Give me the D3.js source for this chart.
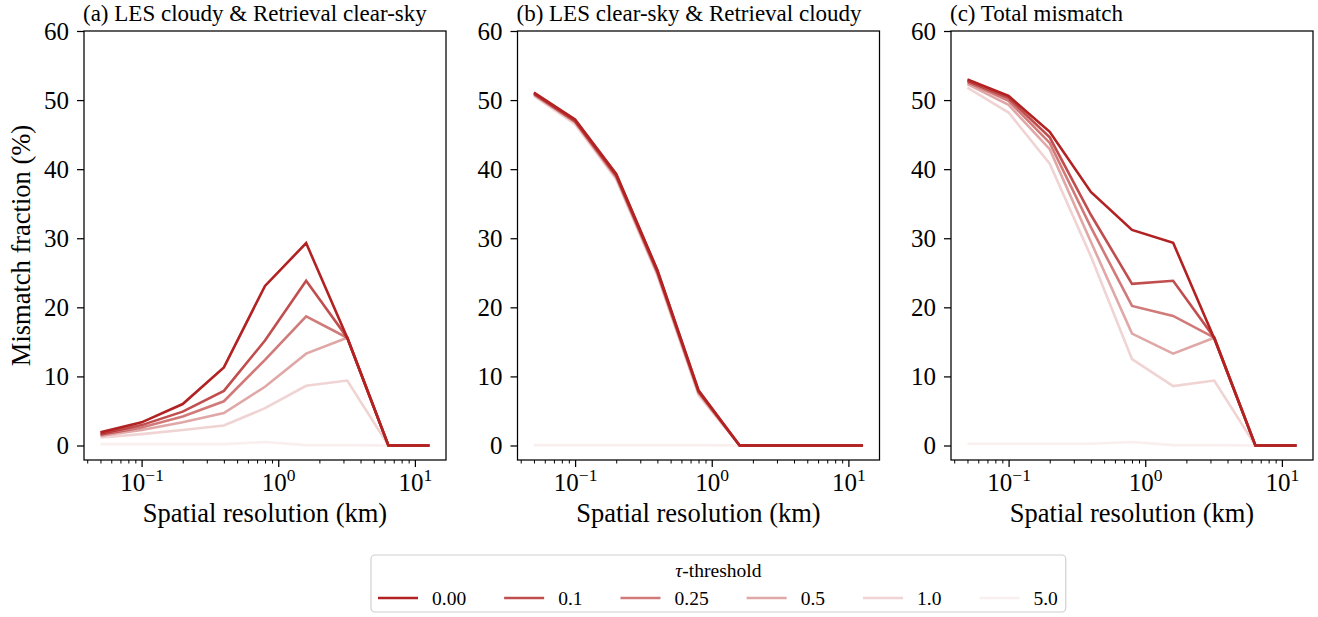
<!DOCTYPE html>
<html>
<head>
<meta charset="utf-8">
<script src="https://cdn.jsdelivr.net/npm/d3@7"></script>
<style>
  body { margin: 0; background: #fff; }
  svg text { font-family: "Liberation Serif", "DejaVu Serif", serif; }
</style>
</head>
<body>
<div id="chart"></div>
<script>
const resolution = [0.05, 0.1, 0.2, 0.4, 0.8, 1.6, 3.2, 6.4, 12.8];
const thresholds = ["0.00", "0.1", "0.25", "0.5", "1.0", "5.0"];
const alphas = [1, 0.8, 0.6, 0.4, 0.2, 0.07];
const yTicks = [0, 10, 20, 30, 40, 50, 60];
const xTicks = [0.1, 1, 10];
const titles = ["(a) LES cloudy & Retrieval clear-sky", "(b) LES clear-sky & Retrieval cloudy", "(c) Total mismatch"];

// (a) LES cloudy & retrieval clear-sky, one row per threshold
const cloudyClear = [
  [1.9, 3.35, 6.0, 11.3, 23.1, 29.3, 15.6, 0, 0],
  [1.7, 2.95, 4.9, 7.9, 15.2, 23.85, 15.6, 0, 0],
  [1.55, 2.6, 4.2, 6.4, 12.4, 18.7, 15.6, 0, 0],
  [1.4, 2.25, 3.35, 4.7, 8.5, 13.3, 15.6, 0, 0],
  [1.15, 1.65, 2.25, 2.9, 5.4, 8.65, 9.4, 0, 0],
  [0.2, 0.2, 0.2, 0.2, 0.5, 0.05, 0.05, 0, 0]
];
// (b) LES clear-sky & retrieval cloudy
const clearCloudy = [
  [51.1, 47.2, 39.3, 25.4, 8.0, 0, 0, 0, 0],
  [51.0, 47.1, 39.2, 25.3, 7.9, 0, 0, 0, 0],
  [50.9, 46.9, 39.0, 25.1, 7.8, 0, 0, 0, 0],
  [50.8, 46.8, 38.8, 24.9, 7.6, 0, 0, 0, 0],
  [50.6, 46.5, 38.5, 24.6, 7.3, 0, 0, 0, 0],
  [0.05, 0.05, 0.05, 0.05, 0.05, 0, 0, 0, 0]
];
// (c) total mismatch
const totalMismatch = [
  [53.0, 50.6, 45.4, 36.7, 31.2, 29.35, 15.5, 0, 0],
  [52.8, 50.3, 44.6, 33.4, 23.4, 23.85, 15.6, 0, 0],
  [52.6, 49.9, 43.8, 31.6, 20.2, 18.75, 15.6, 0, 0],
  [52.3, 49.3, 42.9, 29.5, 16.2, 13.3, 15.6, 0, 0],
  [51.8, 48.2, 40.8, 27.4, 12.5, 8.6, 9.4, 0, 0],
  [0.25, 0.25, 0.25, 0.25, 0.5, 0.05, 0.05, 0, 0]
];
const panels = [cloudyClear, clearCloudy, totalMismatch];

const width = 1318, height = 617;
const base = "#b22222";
const serif = "Liberation Serif";
const axW = 362, axTop = 31, axBottom = 460, firstLeft = 84, step = 433.5;

const svg = d3.select("#chart").append("svg").attr("width", width).attr("height", height)
  .attr("font-family", serif);

const y = d3.scaleLinear().domain([-2.1, 60]).range([axBottom, axTop]);
const pad = Math.pow(10, 0.05 * Math.log10(12.8 / 0.05));
const minor = [];
[0.01, 0.1, 1, 10].forEach(d => { for (let k = 2; k <= 9; k++) minor.push(d * k); });

panels.forEach((series, p) => {
  const left = firstLeft + p * step;
  const x = d3.scaleLog().domain([0.05 / pad, 12.8 * pad]).range([left, left + axW]);
  const g = svg.append("g");

  const line = d3.line().x((d, i) => x(resolution[i])).y(d => y(d));
  for (let t = thresholds.length - 1; t >= 0; t--) {
    g.append("path").datum(series[t])
      .attr("fill", "none").attr("stroke", base).attr("stroke-opacity", alphas[t])
      .attr("stroke-width", 2.6).attr("d", line);
  }

  // minor ticks
  g.append("g").attr("transform", `translate(0,${axBottom})`)
    .call(d3.axisBottom(x).tickValues(minor.filter(v => v > x.domain()[0] && v < x.domain()[1])).tickSize(3.5).tickFormat(""))
    .call(a => a.select(".domain").remove())
    .selectAll("line").attr("stroke", "#000").attr("stroke-width", 1);

  const xa = g.append("g").attr("transform", `translate(0,${axBottom})`)
    .call(d3.axisBottom(x).tickValues(xTicks).tickSize(7).tickPadding(6).tickFormat(""))
    .attr("font-family", serif);
  xa.select(".domain").remove();
  xa.selectAll("line").attr("stroke", "#000").attr("stroke-width", 1.25);
  xa.selectAll("text").attr("font-size", 25).attr("fill", "#000").attr("font-family", serif).each(function (d) {
    const t = d3.select(this);
    t.append("tspan").text("10");
    t.append("tspan").attr("font-size", 17.5).attr("dy", "-0.55em")
      .text(String(Math.round(Math.log10(d))).replace("-", "\u2212"));
  });

  const ya = g.append("g").attr("transform", `translate(${left},0)`)
    .call(d3.axisLeft(y).tickValues(yTicks).tickSize(7).tickPadding(8))
    .attr("font-family", serif);
  ya.select(".domain").remove();
  ya.selectAll("line").attr("stroke", "#000").attr("stroke-width", 1.25);
  ya.selectAll("text").attr("font-size", 25).attr("fill", "#000").attr("font-family", serif);

  g.append("rect").attr("x", left).attr("y", axTop).attr("width", axW).attr("height", axBottom - axTop)
    .attr("fill", "none").attr("stroke", "#000").attr("stroke-width", 1.25);

  g.append("text").attr("x", left - 1).attr("y", 21).attr("font-size", 23).text(titles[p]);
  g.append("text").attr("x", left + axW / 2).attr("y", 522).attr("text-anchor", "middle")
    .attr("font-size", 26.5).text("Spatial resolution (km)");
});

svg.append("text").attr("transform", `translate(30,${(axTop + axBottom) / 2}) rotate(-90)`)
  .attr("text-anchor", "middle").attr("font-size", 26.5).text("Mismatch fraction (%)");

// legend
const lg = svg.append("g");
const box = lg.append("rect").attr("x", 371).attr("y", 555).attr("height", 57).attr("rx", 4)
  .attr("fill", "#fff").attr("stroke", "#d0d0d0").attr("stroke-width", 1.2);
let cx = 378;
thresholds.forEach((t, i) => {
  lg.append("line").attr("x1", cx).attr("x2", cx + 40).attr("y1", 598).attr("y2", 598)
    .attr("stroke", base).attr("stroke-opacity", alphas[i]).attr("stroke-width", 2.6);
  const txt = lg.append("text").attr("x", cx + 54).attr("y", 605).attr("font-size", 19.5).text(t);
  const w = txt.node().getComputedTextLength();
  cx += 54 + w + (i < thresholds.length - 1 ? 38 : 8);
});
box.attr("width", cx - 371);
const title = lg.append("text").attr("x", 371 + (cx - 371) / 2).attr("y", 577)
  .attr("text-anchor", "middle").attr("font-size", 19.5);
title.append("tspan").attr("font-style", "italic").text("\u03c4");
title.append("tspan").text("-threshold");
</script>
</body>
</html>
